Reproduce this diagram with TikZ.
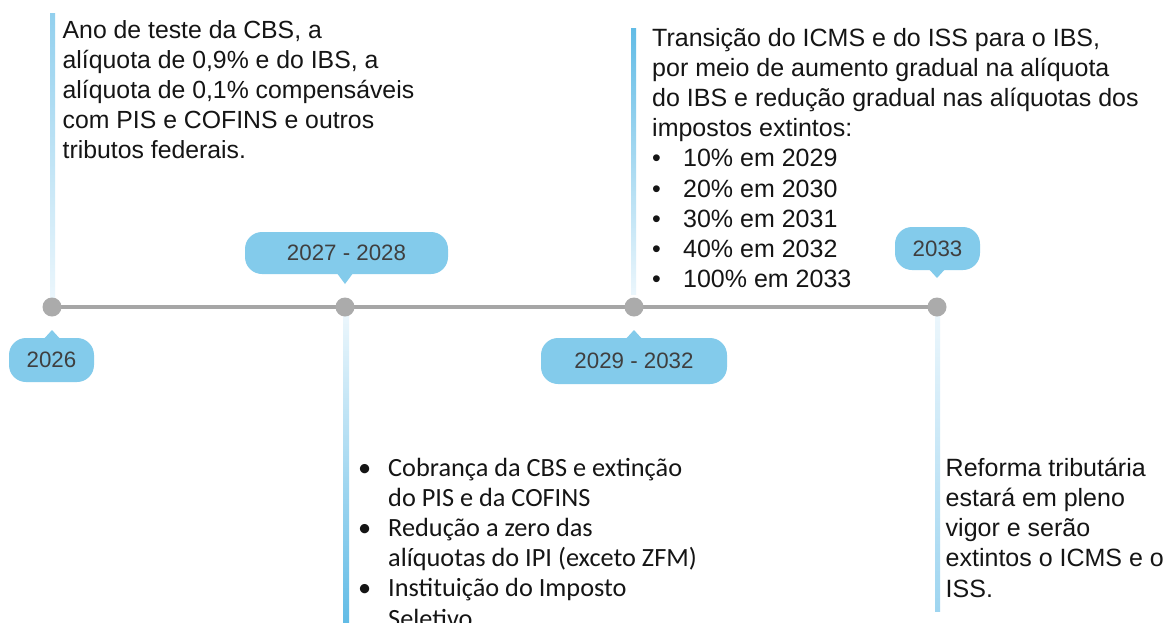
\documentclass[tikz,border=0pt]{standalone}
\usepackage{fontspec}
\setmainfont{Liberation Sans}
\newfontfamily\aptosfont{Carlito}
\usetikzlibrary{calc}
\definecolor{calloutblue}{HTML}{83CBEB}
\definecolor{bardark}{HTML}{62BCE6}
\definecolor{barmid}{HTML}{9ED5F0}
\definecolor{barlight}{HTML}{EBF6FC}
\definecolor{linegray}{HTML}{A6A6A6}
\definecolor{dotgray}{HTML}{ABABAB}
\definecolor{yeartext}{HTML}{3F3F3F}
\definecolor{bodytext}{HTML}{151515}
\newcommand{\bulA}{\makebox[31pt][l]{•}}
\newcommand{\bulB}{\makebox[30pt][l]{•}}
\begin{document}
\begin{tikzpicture}[x=1pt,y=-1pt,
  dot/.style={circle,fill=dotgray,inner sep=0pt,minimum size=19pt},
  yearbox/.style={fill=calloutblue,rounded corners=17pt,text=yeartext,
    font=\fontsize{22.3}{24}\selectfont,inner sep=0pt},
  pointer/.style={fill=calloutblue},
  bodytxt/.style={anchor=base west,inner sep=0pt,align=left,text=bodytext,
    font=\fontsize{25}{30.2}\selectfont},
]
\clip (0,0) rectangle (1165,622);
\fill[white] (0,0) rectangle (1165,622);

% timeline points
\coordinate (p1) at (52,307);
\coordinate (p2) at (345,307);
\coordinate (p3) at (634,307);
\coordinate (p4) at (937,307);

% vertical gradient bars
\shade[top color=barmid!80!bardark, middle color=bardark, bottom color=barlight]
  (50,13) rectangle (55,298);
\shade[top color=barlight, middle color=barmid, bottom color=bardark]
  (343,316) rectangle (349,622);
\shade[top color=bardark, middle color=barmid, bottom color=barlight]
  (631,28) rectangle (636,294);
\shade[top color=barlight, middle color=bardark, bottom color=barmid]
  (935,316) rectangle (940,611);

% timeline
\draw[linegray, line width=4.5pt] (p1) -- (p4);
\node[dot] (d1) at (p1) {};
\node[dot] (d2) at (p2) {};
\node[dot] (d3) at (p3) {};
\node[dot] (d4) at (p4) {};

% callouts
\node[yearbox, minimum width=85pt, minimum height=44pt] (c2026) at (51.5,360) {2026};
\node[yearbox, minimum width=203pt, minimum height=42pt] (c2027) at (346.5,253) {2027 - 2028};
\node[yearbox, minimum width=186pt, minimum height=46pt] (c2029) at (634,361) {2029 - 2032};
\node[yearbox, minimum width=85pt, minimum height=43pt] (c2033) at (937.5,248.5) {2033};

\coordinate (t1) at (52,330);
\coordinate (t2) at (345,284);
\coordinate (t3) at (634,330);
\coordinate (t4) at (937,278);
\fill[pointer] ([xshift=-8pt,yshift=-1pt]c2026.north -| t1) -- (t1) -- ([xshift=8pt,yshift=-1pt]c2026.north -| t1) -- cycle;
\fill[pointer] ([xshift=-8pt,yshift=1pt]c2027.south -| t2) -- (t2) -- ([xshift=8pt,yshift=1pt]c2027.south -| t2) -- cycle;
\fill[pointer] ([xshift=-8pt,yshift=-1pt]c2029.north -| t3) -- (t3) -- ([xshift=8pt,yshift=-1pt]c2029.north -| t3) -- cycle;
\fill[pointer] ([xshift=-8pt,yshift=1pt]c2033.south -| t4) -- (t4) -- ([xshift=8pt,yshift=1pt]c2033.south -| t4) -- cycle;

% texts (anchored at the baseline of their last line)
\node[bodytxt, font=\fontsize{24.8}{30}\selectfont] (txt2026) at (62.5,158) {Ano de teste da CBS, a\\alíquota de 0,9\% e do IBS, a\\alíquota de 0,1\% compensáveis\\com PIS e COFINS e outros\\tributos federais.};

\node[bodytxt] (txt2029) at (652,287.6) {Transição do ICMS e do ISS para o IBS,\\por meio de aumento gradual na alíquota\\do IBS e redução gradual nas alíquotas dos\\impostos extintos:\\\bulA 10\% em 2029\\\bulA 20\% em 2030\\\bulA 30\% em 2031\\\bulA 40\% em 2032\\\bulA 100\% em 2033};

\node[bodytxt, font=\aptosfont\fontsize{26.3}{30.2}\selectfont] (txt2027) at (358,627) {\bulB Cobrança da CBS e extinção\\\hspace*{30pt}do PIS e da COFINS\\\bulB Redução a zero das\\\hspace*{30pt}alíquotas do IPI (exceto ZFM)\\\bulB Instituição do Imposto\\\hspace*{30pt}Seletivo.};

\node[bodytxt] (txt2033) at (945.5,597) {Reforma tributária\\estará em pleno\\vigor e serão\\extintos o ICMS e o\\ISS.};
\end{tikzpicture}
\end{document}
